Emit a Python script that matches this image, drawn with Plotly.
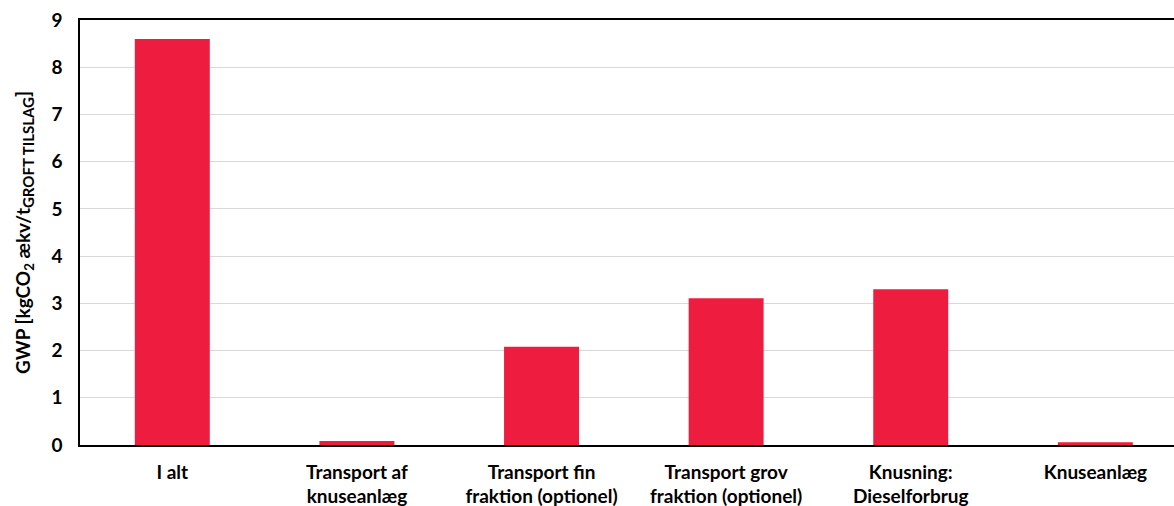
import plotly.graph_objects as go

categories = ["I alt", "Transport af<br>knuseanlæg", "Transport fin<br>fraktion (optionel)",
              "Transport grov<br>fraktion (optionel)", "Knusning:<br>Dieselforbrug", "Knuseanlæg"]
values = [8.60, 0.085, 2.08, 3.11, 3.30, 0.06]
y_ticks = [0, 1, 2, 3, 4, 5, 6, 7, 8, 9]

font_family = "Lato, 'Open Sans', sans-serif"

fig = go.Figure(go.Bar(
    x=list(range(len(categories))), y=values,
    marker=dict(color="#EE1C3E", line=dict(width=0)),
    width=0.406,
))

fig.update_layout(
    width=1174, height=506,
    margin=dict(l=80, r=0, t=20, b=61),
    paper_bgcolor="white", plot_bgcolor="white",
    showlegend=False,
    font=dict(family=font_family, size=19, color="#000000"),
)
fig.update_xaxes(
    tickmode="array", tickvals=list(range(len(categories))),
    ticktext=[f"<b>{c}</b>" for c in categories],
    range=[-0.5, 5.426],
    showline=True, linecolor="#000000", linewidth=1.5, mirror=True,
    ticks="", showgrid=False, zeroline=False,
    tickfont=dict(size=19),
    ticklabelstandoff=9,
)
fig.update_yaxes(
    range=[0, 9], tickvals=y_ticks,
    ticktext=[f"<b>{t}</b>" for t in y_ticks],
    showline=True, linecolor="#000000", linewidth=1.5,
    showgrid=True, gridcolor="#D9D9D9", gridwidth=1,
    zeroline=False, ticks="", ticklen=0,
    tickfont=dict(size=19),
    ticklabelstandoff=12,
    title=dict(text="<b>GWP [kgCO<sub>2</sub> ækv/t<sub><span style='font-size:15px'>GROFT TILSLAG</span></sub>]</b>",
               font=dict(size=19), standoff=16),
)

fig.write_html("out.html")
